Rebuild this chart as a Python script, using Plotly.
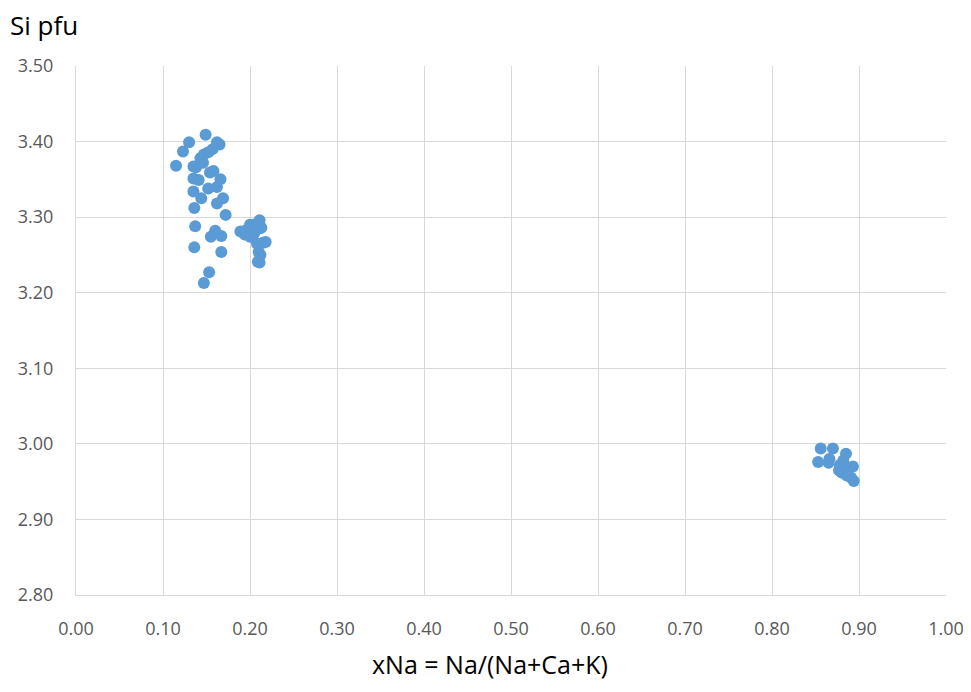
import plotly.graph_objects as go

x_na = [0.149, 0.130, 0.162, 0.165, 0.123, 0.115, 0.135, 0.143, 0.147, 0.152, 0.157, 0.146, 0.138,
        0.154, 0.158, 0.135, 0.141, 0.166, 0.152, 0.162, 0.135, 0.144, 0.169, 0.162, 0.136, 0.172,
        0.137, 0.160, 0.155, 0.167, 0.136, 0.167, 0.153, 0.147,
        0.189, 0.194, 0.196, 0.200, 0.204, 0.206, 0.208, 0.211, 0.211, 0.213, 0.200, 0.205,
        0.208, 0.215, 0.218, 0.210, 0.212, 0.209, 0.211,
        0.853, 0.856, 0.865, 0.866, 0.870, 0.877, 0.880, 0.882, 0.885, 0.888, 0.886, 0.891,
        0.893, 0.894, 0.878, 0.884]
si_pfu = [3.409, 3.399, 3.399, 3.396, 3.387, 3.368, 3.367, 3.378, 3.383, 3.386, 3.390, 3.372, 3.366,
          3.359, 3.361, 3.351, 3.349, 3.350, 3.338, 3.340, 3.334, 3.325, 3.325, 3.318, 3.312, 3.303,
          3.288, 3.282, 3.274, 3.275, 3.260, 3.254, 3.227, 3.213,
          3.281, 3.277, 3.283, 3.290, 3.290, 3.284, 3.287, 3.296, 3.285, 3.286, 3.274, 3.279,
          3.265, 3.266, 3.267, 3.254, 3.250, 3.241, 3.240,
          2.976, 2.994, 2.975, 2.980, 2.994, 2.965, 2.962, 2.978, 2.987, 2.968, 2.958, 2.955,
          2.970, 2.951, 2.972, 2.970]

x_ticks = [0.0, 0.1, 0.2, 0.3, 0.4, 0.5, 0.6, 0.7, 0.8, 0.9, 1.0]
y_ticks = [2.8, 2.9, 3.0, 3.1, 3.2, 3.3, 3.4, 3.5]

fig = go.Figure()
fig.add_trace(go.Scatter(
    x=x_na, y=si_pfu, mode="markers",
    marker=dict(color="#5B9BD5", size=12, line=dict(width=0)),
    showlegend=False, cliponaxis=False,
))

font_family = "Open Sans, Noto Sans, sans-serif"
fig.update_layout(
    width=963, height=684,
    margin=dict(l=68, r=25, t=58, b=97, autoexpand=False),
    paper_bgcolor="white", plot_bgcolor="white",
    font=dict(family=font_family, color="#595959", size=18),
    xaxis=dict(
        range=[0, 1], tickvals=x_ticks, ticktext=[f"{v:.2f}" for v in x_ticks],
        showgrid=True, gridcolor="#D9D9D9", gridwidth=1,
        showline=True, linecolor="#D9D9D9", mirror=False,
        zeroline=False, ticks="", automargin=False, ticklabelstandoff=17,
        tickfont=dict(size=18, color="#595959"),
    ),
    yaxis=dict(
        range=[2.8, 3.5], tickvals=y_ticks, ticktext=[f"{v:.2f}" for v in y_ticks],
        showgrid=True, gridcolor="#D9D9D9", gridwidth=1,
        showline=True, linecolor="#D9D9D9",
        zeroline=False, ticks="", automargin=False, ticklabelstandoff=18,
        tickfont=dict(size=18, color="#595959"),
    ),
    annotations=[
        dict(text="Si pfu", xref="paper", yref="paper", x=0, y=1, xshift=-68, yshift=41,
             xanchor="left", yanchor="middle", showarrow=False,
             font=dict(size=26, color="#000000", family=font_family)),
        dict(text="xNa = Na/(Na+Ca+K)", xref="paper", yref="paper", x=0.5, y=0, xshift=-21, yshift=-69,
             xanchor="center", yanchor="middle", showarrow=False,
             font=dict(size=25, color="#000000", family=font_family)),
    ],
)

fig.write_html("out.html")
